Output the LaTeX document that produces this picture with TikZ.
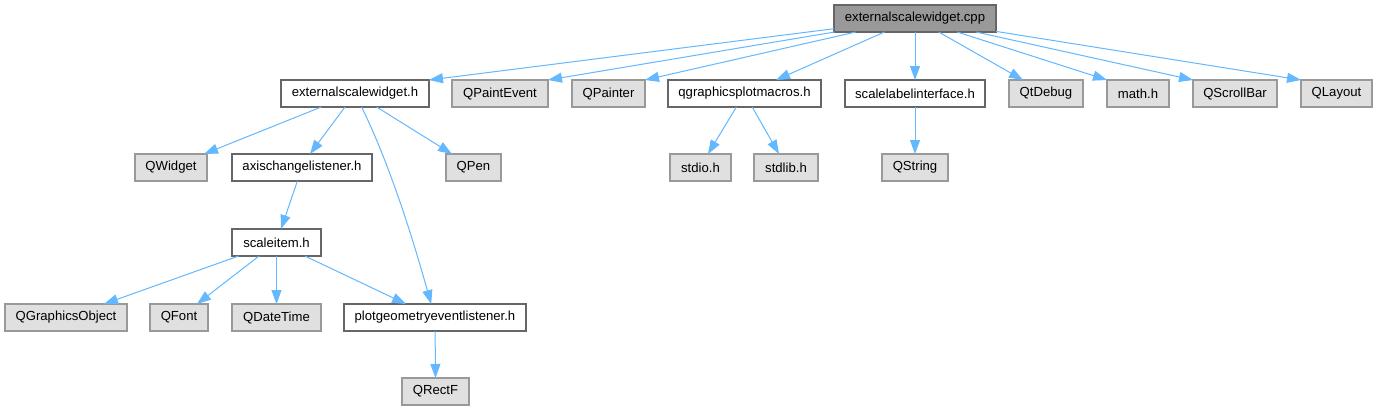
\documentclass[tikz,border=0pt]{standalone}
\usepackage{fontspec}
\setmainfont{Liberation Sans}
\usetikzlibrary{arrows.meta,calc}
\definecolor{edgec}{HTML}{63B8FF}
\definecolor{extfill}{HTML}{E0E0E0}
\definecolor{extdraw}{HTML}{999999}
\definecolor{hdrdraw}{HTML}{666666}
\definecolor{rootfill}{HTML}{999999}
\newcommand\bx[7]{\node[#1, minimum width={(#5-#3)*0.75pt}, minimum height={(#6-#4)*0.75pt}] (#2) at ({(#3+#5)/2},{(#4+#6)/2}) {#7};}
\begin{document}
\begin{tikzpicture}[x=0.75pt,y=-0.75pt,
  base/.style={inner sep=0pt, outer sep=0pt, line width=1pt, font=\fontsize{9.85}{12}\selectfont, text=black},
  rootbox/.style={base, draw=hdrdraw, fill=rootfill},
  hdrbox/.style={base, draw=hdrdraw, fill=white},
  extbox/.style={base, draw=extdraw, fill=extfill},
  edge/.style={draw=edgec, line width=0.75pt, -{Triangle[length=10.5pt,width=7.5pt]}}]
\useasboundingbox[fill=white] (0,0) rectangle (1377,411);
% row 1
\bx{rootbox}{root}{834}{5}{996}{32}{externalscalewidget.cpp}
% row 2
\bx{hdrbox}{esw}{281}{80}{429}{107}{externalscalewidget.h}
\bx{extbox}{qpe}{452}{80}{548}{107}{QPaintEvent}
\bx{extbox}{qpa}{572}{80}{645}{107}{QPainter}
\bx{hdrbox}{qgm}{668}{80}{821}{107}{qgraphicsplotmacros.h}
\bx{hdrbox}{sli}{845}{80}{985}{107}{scalelabelinterface.h}
\bx{extbox}{qtd}{1009}{80}{1083}{107}{QtDebug}
\bx{extbox}{mth}{1107}{80}{1169}{107}{math.h}
\bx{extbox}{qsb}{1193}{80}{1277}{107}{QScrollBar}
\bx{extbox}{qla}{1301}{80}{1372}{107}{QLayout}
% row 3
\bx{extbox}{qwi}{135}{154}{207}{181}{QWidget}
\bx{hdrbox}{acl}{232}{154}{372}{181}{axischangelistener.h}
\bx{extbox}{qpn}{446}{154}{501}{181}{QPen}
\bx{extbox}{sio}{670}{154}{731}{181}{stdio.h}
\bx{extbox}{slb}{754}{154}{818}{181}{stdlib.h}
\bx{extbox}{qst}{882}{154}{948}{181}{QString}
% row 4
\bx{hdrbox}{sci}{232}{229}{321}{256}{scaleitem.h}
% row 5
\bx{extbox}{qgo}{5}{304}{127}{331}{QGraphicsObject}
\bx{extbox}{qfo}{150}{304}{208}{331}{QFont}
\bx{extbox}{qdt}{232}{304}{321}{331}{QDateTime}
\bx{hdrbox}{pge}{344}{304}{526}{331}{plotgeometryeventlistener.h}
% row 6
\bx{extbox}{qrf}{402}{378}{469}{405}{QRectF}
% edges from root
\draw[edge] (root) -- (esw.north east);
\draw[edge] (root) -- (qpe.north east);
\draw[edge] (root) -- (qpa.north east);
\draw[edge] (root) -- ($(qgm.north)+(31.5,0)$);
\draw[edge] (root) -- (sli.north);
\draw[edge] (root) -- ($(qtd.north)+(-23,0)$);
\draw[edge] (root) -- (mth.north west);
\draw[edge] (root) -- (qsb.north west);
\draw[edge] (root) -- (qla.north west);
% edges from externalscalewidget.h
\draw[edge] (esw) -- ($(qwi.north)+(33,0)$);
\draw[edge] (esw) -- ($(acl.north)+(8,0)$);
\draw[edge] (esw) -- ($(qpn.north)+(-21.5,0)$);
\draw[edge] (esw) .. controls (391,167) and (414,243) .. (pge);
% qgraphicsplotmacros.h
\draw[edge] (qgm) -- ($(sio.north)+(7.5,0)$);
\draw[edge] (qgm) -- ($(slb.north)+(-7,0)$);
% scalelabelinterface.h
\draw[edge] (sli) -- (qst.north);
% axischangelistener.h
\draw[edge] (acl) -- ($(sci.north)+(4.5,0)$);
% scaleitem.h
\draw[edge] (sci) -- ($(qgo.north)+(38,0)$);
\draw[edge] (sci) -- ($(qfo.north)+(18,0)$);
\draw[edge] (sci) -- (qdt.north);
\draw[edge] (sci) -- ($(pge.north)+(-29,0)$);
% plotgeometryeventlistener.h
\draw[edge] (pge) -- (qrf.north);
\end{tikzpicture}
\end{document}
